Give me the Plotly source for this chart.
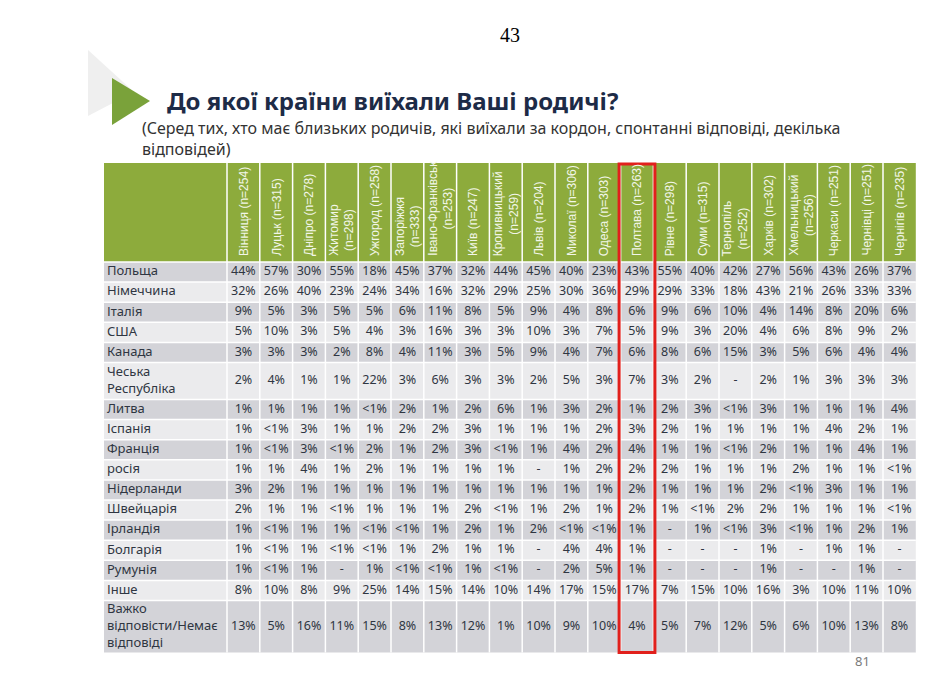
import plotly.graph_objects as go

# ---------------- DATA ----------------
cities = ["Вінниця (n=254)", "Луцьк (n=315)", "Дніпро (n=278)", "Житомир<br>(n=298)",
          "Ужгород (n=258)", "Запоріжжя<br>(n=333)", "Івано-Франківськ<br>(n=253)",
          "Київ (n=247)", "Кропивницький<br>(n=259)", "Львів (n=204)", "Миколаї (n=306)",
          "Одеса (n=303)", "Полтава (n=263)", "Рівне (n=298)", "Суми (n=315)",
          "Тернопіль<br>(n=252)", "Харків (n=302)", "Хмельницький<br>(n=256)",
          "Черкаси (n=251)", "Чернівці (n=251)", "Чернігів (n=235)"]

countries = ["Польща", "Німеччина", "Італія", "США", "Канада", "Чеська<br>Республіка",
             "Литва", "Іспанія", "Франція", "росія", "Нідерланди", "Швейцарія",
             "Ірландія", "Болгарія", "Румунія", "Інше",
             "Важко<br>відповісти/Немає<br>відповіді"]

L = "<1"   # less than 1%
N = None   # no answers ("-")

poland      = [44, 57, 30, 55, 18, 45, 37, 32, 44, 45, 40, 23, 43, 55, 40, 42, 27, 56, 43, 26, 37]
germany     = [32, 26, 40, 23, 24, 34, 16, 32, 29, 25, 30, 36, 29, 29, 33, 18, 43, 21, 26, 33, 33]
italy       = [9, 5, 3, 5, 5, 6, 11, 8, 5, 9, 4, 8, 6, 9, 6, 10, 4, 14, 8, 20, 6]
usa         = [5, 10, 3, 5, 4, 3, 16, 3, 3, 10, 3, 7, 5, 9, 3, 20, 4, 6, 8, 9, 2]
canada      = [3, 3, 3, 2, 8, 4, 11, 3, 5, 9, 4, 7, 6, 8, 6, 15, 3, 5, 6, 4, 4]
czechia     = [2, 4, 1, 1, 22, 3, 6, 3, 3, 2, 5, 3, 7, 3, 2, N, 2, 1, 3, 3, 3]
lithuania   = [1, 1, 1, 1, L, 2, 1, 2, 6, 1, 3, 2, 1, 2, 3, L, 3, 1, 1, 1, 4]
spain       = [1, L, 3, 1, 1, 2, 2, 3, 1, 1, 1, 2, 3, 2, 1, 1, 1, 1, 4, 2, 1]
france      = [1, L, 3, L, 2, 1, 2, 3, L, 1, 4, 2, 4, 1, 1, L, 2, 1, 1, 4, 1]
russia      = [1, 1, 4, 1, 2, 1, 1, 1, 1, N, 1, 2, 2, 2, 1, 1, 1, 2, 1, 1, L]
netherlands = [3, 2, 1, 1, 1, 1, 1, 1, 1, 1, 1, 1, 2, 1, 1, 1, 2, L, 3, 1, 1]
switzerland = [2, 1, 1, L, 1, 1, 1, 2, L, 1, 2, 1, 2, 1, L, 2, 2, 1, 1, 1, L]
ireland     = [1, L, 1, 1, L, L, 1, 2, 1, 2, L, L, 1, N, 1, L, 3, L, 1, 2, 1]
bulgaria    = [1, L, 1, L, L, 1, 2, 1, 1, N, 4, 4, 1, N, N, N, 1, N, 1, 1, N]
romania     = [1, L, 1, N, 1, L, L, 1, L, N, 2, 5, 1, N, N, N, 1, N, N, 1, N]
other       = [8, 10, 8, 9, 25, 14, 15, 14, 10, 14, 17, 15, 17, 7, 15, 10, 16, 3, 10, 11, 10]
dont_know   = [13, 5, 16, 11, 15, 8, 13, 12, 1, 10, 9, 10, 4, 5, 7, 12, 5, 6, 10, 13, 8]

values = [poland, germany, italy, usa, canada, czechia, lithuania, spain, france, russia,
          netherlands, switzerland, ireland, bulgaria, romania, other, dont_know]

highlight_city = "Полтава (n=263)"

title = "До якої країни виїхали Ваші родичі?"
subtitle = ("(Серед тих, хто має близьких родичів, які виїхали за кордон, спонтанні відповіді, декілька"
            "<br>відповідей)")

# ---------------- LAYOUT / STYLE ----------------
W, H = 944, 688
OFF = 8           # page body margin of the html page
X0 = 104          # table left
LABEL_W = 123     # label column width
COL_W = 32.8      # city column width
HEAD_Y0, HEAD_Y1 = 163, 262
ROW_H = {1: 20.1, 2: 37.0, 3: 52.0}

GREEN = "#8dab3c"
DARK_ROW = "#d3d3d8"
LIGHT_ROW = "#ebebed"
TXT = "#2f3642"
RED = "#e1201c"

ncol = len(cities)
x_data0 = X0 + LABEL_W
x_end = x_data0 + ncol * COL_W
col_centers = [x_data0 + (i + 0.5) * COL_W for i in range(ncol)]

row_tops, row_bots = [], []
y = HEAD_Y1
for c in countries:
    h = ROW_H[c.count("<br>") + 1]
    row_tops.append(y)
    y += h
    row_bots.append(y)
table_bottom = y
row_centers = [(a + b) / 2 for a, b in zip(row_tops, row_bots)]


def fmt(v):
    if v is None:
        return "-"
    if v == L:
        return "<1%"
    return f"{v}%"


fig = go.Figure()
shapes = []

# decorative shapes
shapes.append(dict(type="path", path="M 88 50 L 134 92 L 88 116 Z",
                   fillcolor="#efefef", line=dict(width=0), xref="x", yref="y", layer="below"))
shapes.append(dict(type="path", path="M 112 78 L 150 101 L 112 125 Z",
                   fillcolor="#7aa23a", line=dict(width=0), xref="x", yref="y", layer="below"))

# header background
shapes.append(dict(type="rect", x0=X0, x1=x_end, y0=HEAD_Y0, y1=HEAD_Y1,
                   fillcolor=GREEN, line=dict(width=0), xref="x", yref="y", layer="below"))
# row backgrounds
for i, (t, b) in enumerate(zip(row_tops, row_bots)):
    shapes.append(dict(type="rect", x0=X0, x1=x_end, y0=t, y1=b,
                       fillcolor=DARK_ROW if i % 2 == 0 else LIGHT_ROW,
                       line=dict(width=0), xref="x", yref="y", layer="below"))
# horizontal white separators
for b in [HEAD_Y1] + row_bots[:-1]:
    shapes.append(dict(type="line", x0=X0, x1=x_end, y0=b, y1=b,
                       line=dict(color="white", width=1.5), xref="x", yref="y", layer="below"))
# vertical white separators
for i in range(ncol):
    xv = x_data0 + i * COL_W
    shapes.append(dict(type="line", x0=xv, x1=xv, y0=HEAD_Y0, y1=table_bottom,
                       line=dict(color="white", width=1.5), xref="x", yref="y", layer="below"))

# red highlight box
hi = cities.index(highlight_city)
shapes.append(dict(type="rect", x0=x_data0 + hi * COL_W - 1.5, x1=x_data0 + (hi + 1) * COL_W + 1.5,
                   y0=HEAD_Y0 + 1, y1=table_bottom,
                   line=dict(color=RED, width=3), fillcolor="rgba(0,0,0,0)", xref="x", yref="y"))

# values text trace
xs, ys, ts = [], [], []
for r, row in enumerate(values):
    for c, v in enumerate(row):
        xs.append(col_centers[c])
        ys.append(row_centers[r])
        ts.append(fmt(v))
fig.add_trace(go.Scatter(x=xs, y=ys, mode="text", text=ts, textposition="middle center",
                         textfont=dict(family="Noto Sans", size=12.5, color=TXT),
                         hoverinfo="skip", showlegend=False))

# row labels
fig.add_trace(go.Scatter(x=[X0 + 3] * len(countries), y=row_centers, mode="text",
                         text=countries, textposition="middle right",
                         textfont=dict(family="Noto Sans", size=13, color=TXT),
                         hoverinfo="skip", showlegend=False))

annotations = []
# header labels (rotated)
for c, name in enumerate(cities):
    annotations.append(dict(x=col_centers[c], y=HEAD_Y1 - 4, xref="x", yref="y",
                            text=name, textangle=-90, showarrow=False,
                            xanchor="center", yanchor="bottom", align="center",
                            font=dict(family="Liberation Sans", size=12, color="#f2f6e8")))

# title, subtitle, page numbers
annotations.append(dict(x=165, y=100, xref="x", yref="y", text=f"<b>{title}</b>",
                        showarrow=False, xanchor="left", yanchor="middle",
                        font=dict(family="Noto Sans", size=24, color="#1d2b47")))
annotations.append(dict(x=140, y=138.5, xref="x", yref="y", text=subtitle,
                        showarrow=False, xanchor="left", yanchor="middle", align="left",
                        font=dict(family="Noto Sans", size=16, color="#333333")))
annotations.append(dict(x=510, y=35, xref="x", yref="y", text="43",
                        showarrow=False, xanchor="center", yanchor="middle",
                        font=dict(family="Liberation Serif", size=20, color="#000000")))
annotations.append(dict(x=862, y=661, xref="x", yref="y", text="81",
                        showarrow=False, xanchor="center", yanchor="middle",
                        font=dict(family="Noto Sans", size=13, color="#7a7a7a")))

fig.update_layout(
    width=W - 2 * OFF, height=H - 2 * OFF,
    margin=dict(l=0, r=0, t=0, b=0),
    paper_bgcolor="white", plot_bgcolor="white",
    xaxis=dict(range=[OFF, W - OFF], visible=False, fixedrange=True),
    yaxis=dict(range=[H - OFF, OFF], visible=False, fixedrange=True),
    shapes=shapes, annotations=annotations,
    showlegend=False,
)

fig.write_html("out.html", config={"displayModeBar": False})
